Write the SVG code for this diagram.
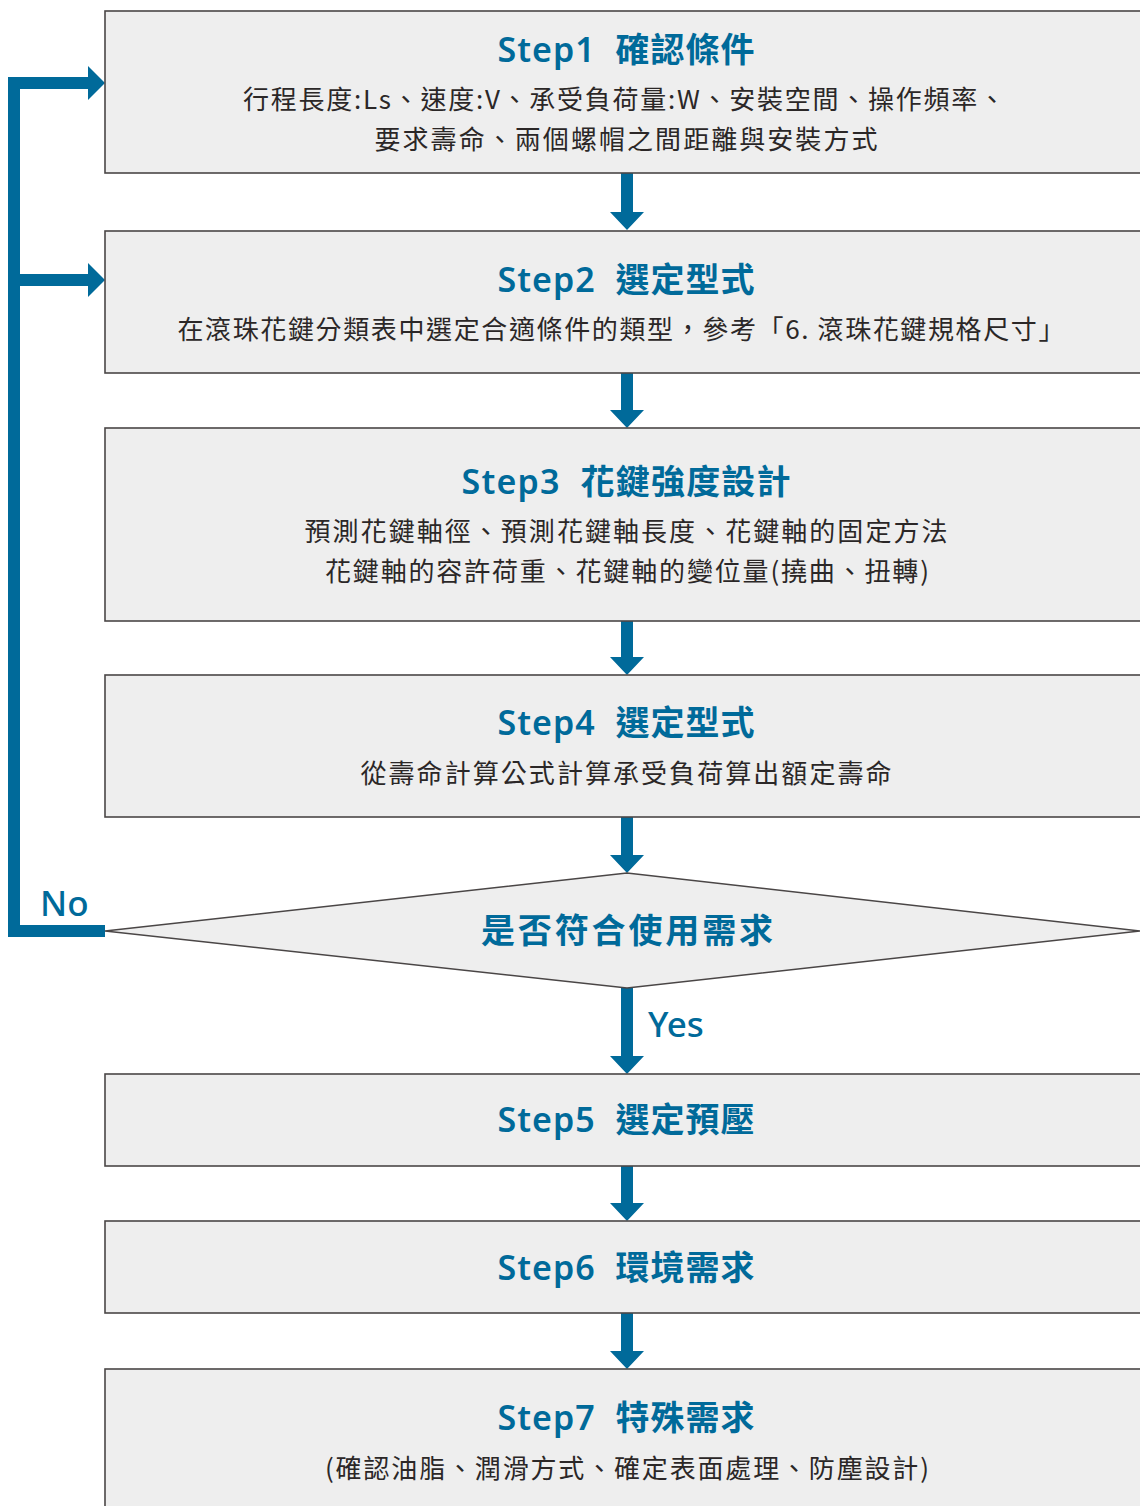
<svg xmlns="http://www.w3.org/2000/svg" width="1140" height="1506" viewBox="0 0 1140 1506">
<style>
.box{fill:#eeeeee;stroke:#4a4646;stroke-width:1.6}
.title{font-family:"Noto Sans","Noto Sans CJK TC",sans-serif;font-size:34px;font-weight:600;fill:#006a9a;text-anchor:middle;white-space:pre}
.body{font-family:"Noto Sans CJK TC","Noto Sans",sans-serif;font-size:26px;fill:#2b2727;text-anchor:middle}
.lbl{font-family:"Noto Sans",sans-serif;font-size:35px;font-weight:500;fill:#006a9a}
.arr{fill:#006a9a}
.loop{fill:none;stroke:#006a9a;stroke-width:12;stroke-linejoin:miter}
</style>
<g id="connectors">
  <path class="arr" d="M621,173H633V212H644L627,230L610,212H621Z"/>
  <path class="arr" d="M621,373H633V410H644L627,428L610,410H621Z"/>
  <path class="arr" d="M621,621H633V657H644L627,675L610,657H621Z"/>
  <path class="arr" d="M621,817H633V855H644L627,873L610,855H621Z"/>
  <path class="arr" d="M621,988H633V1056H644L627,1074L610,1056H621Z"/>
  <path class="arr" d="M621,1166H633V1203H644L627,1221L610,1203H621Z"/>
  <path class="arr" d="M621,1313H633V1351H644L627,1369L610,1351H621Z"/>
  <path class="loop" d="M105,931H14V83H90"/>
  <path class="loop" d="M14,280H90"/>
  <path class="arr" d="M88,66L105,83L88,100Z"/>
  <path class="arr" d="M88,263L105,280L88,297Z"/>
  <text class="lbl" x="40" y="916">No</text>
  <text class="lbl" x="648" y="1037">Yes</text>
</g>
<g id="step1">
  <rect class="box" x="105" y="11" width="1040" height="162"/>
  <text class="title" x="626" y="62" textLength="257">Step1  確認條件</text>
  <text class="body" x="624" y="109" textLength="762">行程長度:Ls、速度:V、承受負荷量:W、安裝空間、操作頻率、</text>
  <text class="body" x="626" y="149" textLength="503">要求壽命、兩個螺帽之間距離與安裝方式</text>
</g>
<g id="step2">
  <rect class="box" x="105" y="231" width="1040" height="142"/>
  <text class="title" x="626" y="292" textLength="257">Step2  選定型式</text>
  <text class="body" x="621" y="339" textLength="887">在滾珠花鍵分類表中選定合適條件的類型，參考「6. 滾珠花鍵規格尺寸」</text>
</g>
<g id="step3">
  <rect class="box" x="105" y="428" width="1040" height="193"/>
  <text class="title" x="626" y="494" textLength="329">Step3  花鍵強度設計</text>
  <text class="body" x="626" y="541" textLength="643">預測花鍵軸徑、預測花鍵軸長度、花鍵軸的固定方法</text>
  <text class="body" x="627" y="581" textLength="604">花鍵軸的容許荷重、花鍵軸的變位量(撓曲、扭轉)</text>
</g>
<g id="step4">
  <rect class="box" x="105" y="675" width="1040" height="142"/>
  <text class="title" x="626" y="735" textLength="257">Step4  選定型式</text>
  <text class="body" x="626" y="783" textLength="531">從壽命計算公式計算承受負荷算出額定壽命</text>
</g>
<g id="decision">
  <polygon class="box" points="105,931 627,873 1140,931 627,988"/>
  <text class="title" x="627" y="943" textLength="292">是否符合使用需求</text>
</g>
<g id="step5">
  <rect class="box" x="105" y="1074" width="1040" height="92"/>
  <text class="title" x="626" y="1132" textLength="257">Step5  選定預壓</text>
</g>
<g id="step6">
  <rect class="box" x="105" y="1221" width="1040" height="92"/>
  <text class="title" x="626" y="1280" textLength="257">Step6  環境需求</text>
</g>
<g id="step7">
  <rect class="box" x="105" y="1369" width="1040" height="150"/>
  <text class="title" x="626" y="1430" textLength="257">Step7  特殊需求</text>
  <text class="body" x="627" y="1478" textLength="604">(確認油脂、潤滑方式、確定表面處理、防塵設計)</text>
</g>
</svg>
